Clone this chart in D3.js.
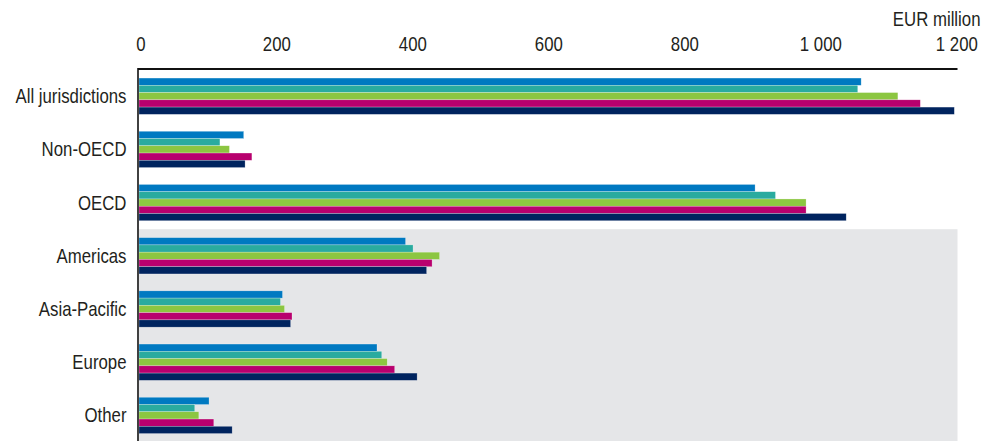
<!DOCTYPE html>
<html><head><meta charset="utf-8">
<script src="https://cdn.jsdelivr.net/npm/d3@7"></script>
<style>
html,body{margin:0;padding:0;background:#fff;}
svg{display:block;}
text{font-family:"Liberation Sans",Arial,sans-serif;fill:#231f20;}
</style></head>
<body>
<svg id="chart" width="981" height="441"></svg>
<script>
const categories = ["All jurisdictions","Non-OECD","OECD","Americas","Asia-Pacific","Europe","Other"];
const seriesNames = ["s1","s2","s3","s4","s5"];
const seriesColors = ["#0079c1","#2aab9f","#8cc641","#b8006e","#00245f"];
const s1 = [1062, 154, 906, 392, 211, 350, 103];
const s2 = [1057, 119, 936, 403, 208, 357, 82];
const s3 = [1116, 133, 981, 442, 214, 365, 88];
const s4 = [1149, 166, 981, 431, 225, 376, 110];
const s5 = [1199, 156, 1040, 423, 223, 409, 137];
const seriesValues = [s1, s2, s3, s4, s5];
const tickValues = [0, 200, 400, 600, 800, 1000, 1200];
const tickLabels = ["0","200","400","600","800","1 000","1 200"];
const shadedCategories = ["Americas","Asia-Pacific","Europe","Other"];
const unitLabel = "EUR million";

const SX = 0.84;
const FS = 20;
const svg = d3.select("#chart");
const x = d3.scaleLinear().domain([0, 1200]).range([139, 955]);
const y = d3.scaleBand().domain(categories).range([69.6, 442]).padding(0);
const groupH = 36.3;
const yIn = d3.scaleBand().domain(seriesNames).range([0, groupH]).padding(0);

// shaded background
const firstShaded = y(shadedCategories[0]);
svg.append("rect").attr("x", x(0)).attr("y", firstShaded)
  .attr("width", 957.5 - x(0)).attr("height", 441 - firstShaded)
  .attr("fill", "#e5e6e8");

// bars
const data = [];
categories.forEach((c, i) => {
  seriesNames.forEach((s, j) => data.push({c, s, j, v: seriesValues[j][i]}));
});
const off = (y.bandwidth() - groupH) / 2;
svg.append("g").selectAll("rect").data(data).join("rect")
  .attr("x", x(0))
  .attr("y", d => y(d.c) + off + yIn(d.s))
  .attr("width", d => x(d.v) - x(0))
  .attr("height", yIn.bandwidth())
  .attr("fill", d => seriesColors[d.j])
  .attr("stroke", "#ffffff").attr("stroke-width", 0.5).attr("stroke-opacity", 0.5);

// top axis
const xAxis = d3.axisTop(x).tickValues(tickValues)
  .tickFormat((d, i) => tickLabels[i]).tickSize(0).tickPadding(0);
const gx = svg.append("g").attr("transform", "translate(1.3,51)").call(xAxis);
gx.select(".domain").remove();
gx.selectAll("text").attr("font-size", FS).attr("fill", "#231f20")
  .attr("dy", 0).attr("y", 0).attr("transform", `scale(${SX},1)`);

svg.append("line").attr("x1", 138).attr("x2", 957.5).attr("y1", 69).attr("y2", 69)
  .attr("stroke", "#111").attr("stroke-width", 2);

// left axis
const yAxis = d3.axisLeft(y).tickSize(0).tickPadding(0);
const gy = svg.append("g").attr("transform", "translate(126.5,0)").call(yAxis);
gy.select(".domain").remove();
gy.selectAll("text").attr("font-size", FS).attr("fill", "#231f20")
  .attr("x", 0).attr("dy", "0.35em").attr("transform", `scale(${SX},1)`);
svg.append("line").attr("x1", 138).attr("x2", 138).attr("y1", 68).attr("y2", 441)
  .attr("stroke", "#111").attr("stroke-width", 1.6);

svg.append("text").attr("transform", `translate(980.5,26) scale(${SX},1)`)
  .attr("text-anchor", "end").attr("font-size", FS).text(unitLabel);
</script>
</body></html>
